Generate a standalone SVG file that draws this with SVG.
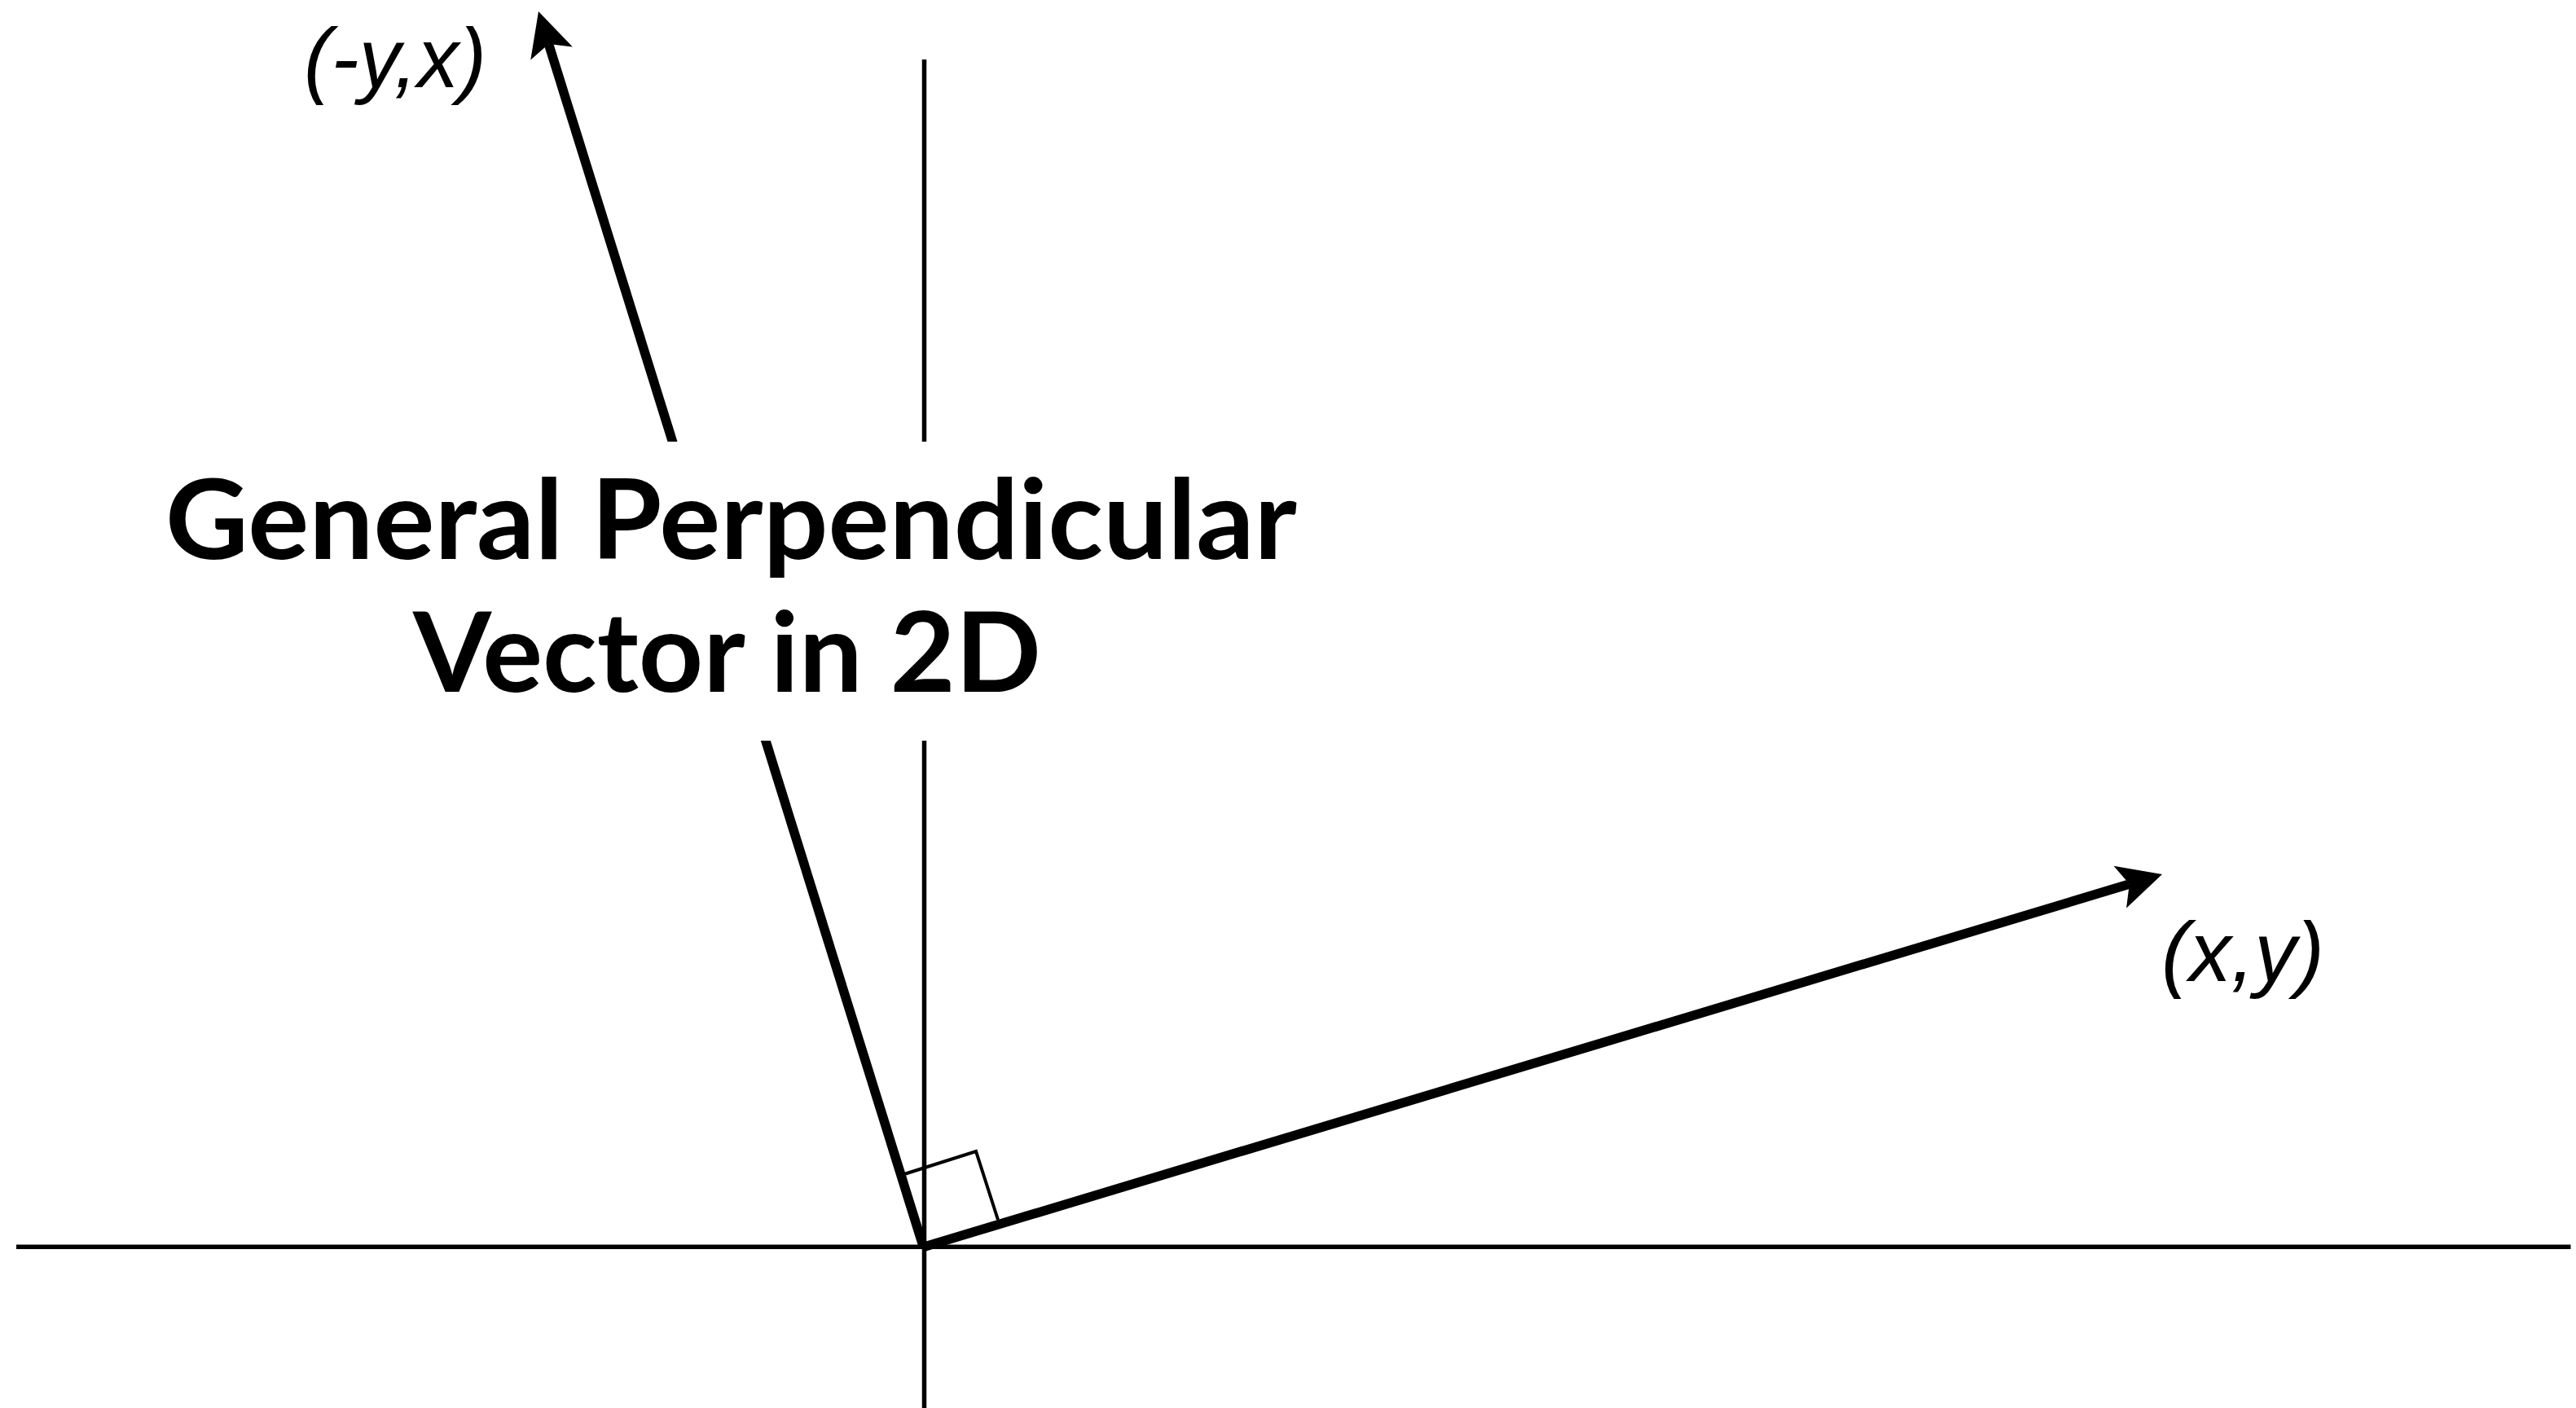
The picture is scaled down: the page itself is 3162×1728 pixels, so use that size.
<svg xmlns="http://www.w3.org/2000/svg" width="3162" height="1728" viewBox="0 0 3162 1728">
  <style>
    .axis { stroke: #000; stroke-width: 5.5; fill: none; }
    .vec { stroke: #000; stroke-width: 11.5; fill: none; }
    .box { stroke: #000; stroke-width: 4; fill: none; }
    .title { font-family: "Lato", "Liberation Sans", sans-serif; font-weight: 700; font-size: 136px; fill: #000; }
    .lbl { font-family: "Liberation Sans", "Lato", sans-serif; font-style: italic; font-size: 104px; fill: #000; }
  </style>
  <defs>
    <marker id="head" markerUnits="userSpaceOnUse" viewBox="-15 -30 60 60" markerWidth="60" markerHeight="60" refX="0" refY="0" orient="auto" overflow="visible">
      <path d="M42,0 L-12,-27 L0,0 L-12,27 Z" fill="#000"/>
    </marker>
  </defs>
  <rect x="0" y="0" width="3162" height="1728" fill="#fff"/>
  <g id="axes">
    <line class="axis" x1="20" y1="1530.3" x2="3155.5" y2="1530.3"/>
    <line class="axis" x1="1134.5" y1="73" x2="1134.5" y2="1728"/>
  </g>
  <g id="connectors">
    <line class="vec" x1="1135" y1="1530" x2="2613.8" y2="1085.1" marker-end="url(#head)"/>
    <line class="vec" x1="1133" y1="1529" x2="673.5" y2="54.1" marker-end="url(#head)"/>
    <polyline class="box" points="1110,1441 1198,1413 1225,1497"/>
  </g>
  <g id="title">
    <rect x="180" y="542" width="1440" height="367" fill="#fff"/>
    <text class="title" x="203" y="686" textLength="1389" lengthAdjust="spacingAndGlyphs">General Perpendicular</text>
    <text class="title" x="507" y="849" textLength="771" lengthAdjust="spacingAndGlyphs">Vector in 2D</text>
  </g>
  <g id="label-perp">
    <text class="lbl" x="373" y="107" textLength="224" lengthAdjust="spacingAndGlyphs">(-y,x)</text>
  </g>
  <g id="label-vec">
    <text class="lbl" x="2653" y="1204" textLength="200" lengthAdjust="spacingAndGlyphs">(x,y)</text>
  </g>
</svg>
